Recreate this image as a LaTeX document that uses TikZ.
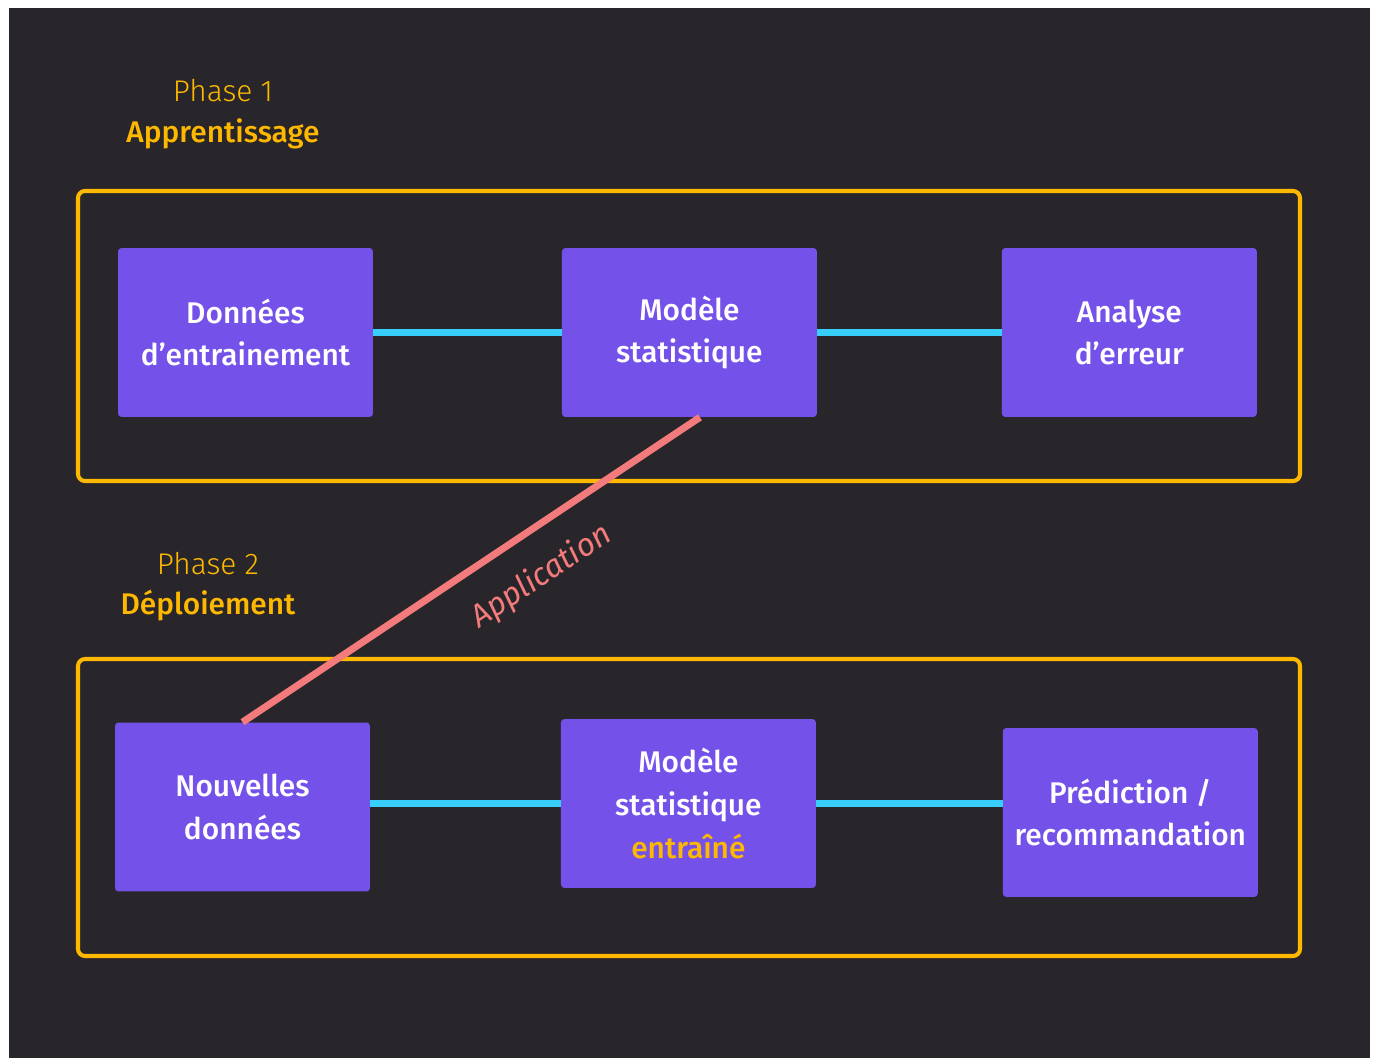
\documentclass[tikz,border=0pt]{standalone}
\usepackage{fontspec}
\setmainfont{Fira Sans}[BoldFont={* Medium},BoldItalicFont={* Medium Italic}]
\newfontfamily\thinfont{Fira Sans Light}
\usetikzlibrary{%
  positioning
 ,calc
}
\definecolor{fond}{HTML}{28262B}
\definecolor{jaune}{HTML}{FFB800}
\definecolor{violet}{HTML}{7452E9}
\definecolor{bleu}{HTML}{38CFFD}
\definecolor{saumon}{HTML}{F47B7B}
\tikzstyle{etape}=[rectangle,draw=none,fill=violet,rounded corners=2pt,minimum width=5.1cm,minimum height=3.38cm,align=center,text=white,font=\bfseries\fontsize{17}{24.4}\selectfont]
\tikzstyle{cadre}=[draw=jaune,line width=2.3pt,rounded corners=4pt]
\tikzstyle{lien}=[color=bleu,line width=4.5pt]
\tikzstyle{appli}=[color=saumon,line width=4pt]
\tikzstyle{phase}=[text=jaune,anchor=base,inner sep=0pt]

\begin{document}
\begin{tikzpicture}[x=0.02cm,y=-0.02cm,node distance=8.84cm,on grid]
      % fond
      \fill[white] (0,0) rectangle (1374,1061);
      \fill[fond] (9,8) rectangle (1370,1058);
      \useasboundingbox (0,0) rectangle (1374,1061);
      % phase 1
      \node[phase,font=\thinfont\fontsize{17}{20}\selectfont] (t_1) at (223,102) {Phase 1};
      \node[phase,font=\bfseries\fontsize{17}{20}\selectfont] (n_1) at (223,143) {Apprentissage};
      \draw[cadre] (78,191) rectangle (1300,481);
      \node[etape] (a_0) at (245.5,332.5) {Données\\d’entrainement};
      \node[etape] (a_1) [right of=a_0, xshift=0.04cm] {Modèle\\statistique};
      \node[etape] (a_2) [right of=a_1, xshift=-0.04cm] {Analyse\\d’erreur};
      \path[lien]
        (a_0) edge (a_1)
        (a_1) edge (a_2);
      % phase 2
      \node[phase,font=\thinfont\fontsize{17}{20}\selectfont] (t_2) at (208,574) {Phase 2};
      \node[phase,font=\bfseries\fontsize{17}{20}\selectfont] (n_2) at (208,614) {Déploiement};
      \draw[cadre] (78,659) rectangle (1300,956);
      \node[etape] (d_0) at (242.5,807) {Nouvelles\\données};
      \node[etape] (d_1) [right of=d_0, xshift=0.08cm, yshift=0.07cm] {Modèle\\statistique\\\textcolor{jaune}{entraîné}};
      \node[etape] (d_2) [right of=d_1, yshift=-0.18cm] {Prédiction /\\recommandation};
      \path[lien]
        (d_0.east |- d_1) edge (d_1)
        (d_1) edge (d_1 -| d_2.west);
      % application
      \draw[appli] (d_0.north) -- ([xshift=0.21cm]a_1.south)
        node[pos=0.6,sloped,below=11pt,text=saumon,font=\itshape\fontsize{18}{20}\selectfont] (l_0) {Application};
    \end{tikzpicture}
\end{document}
